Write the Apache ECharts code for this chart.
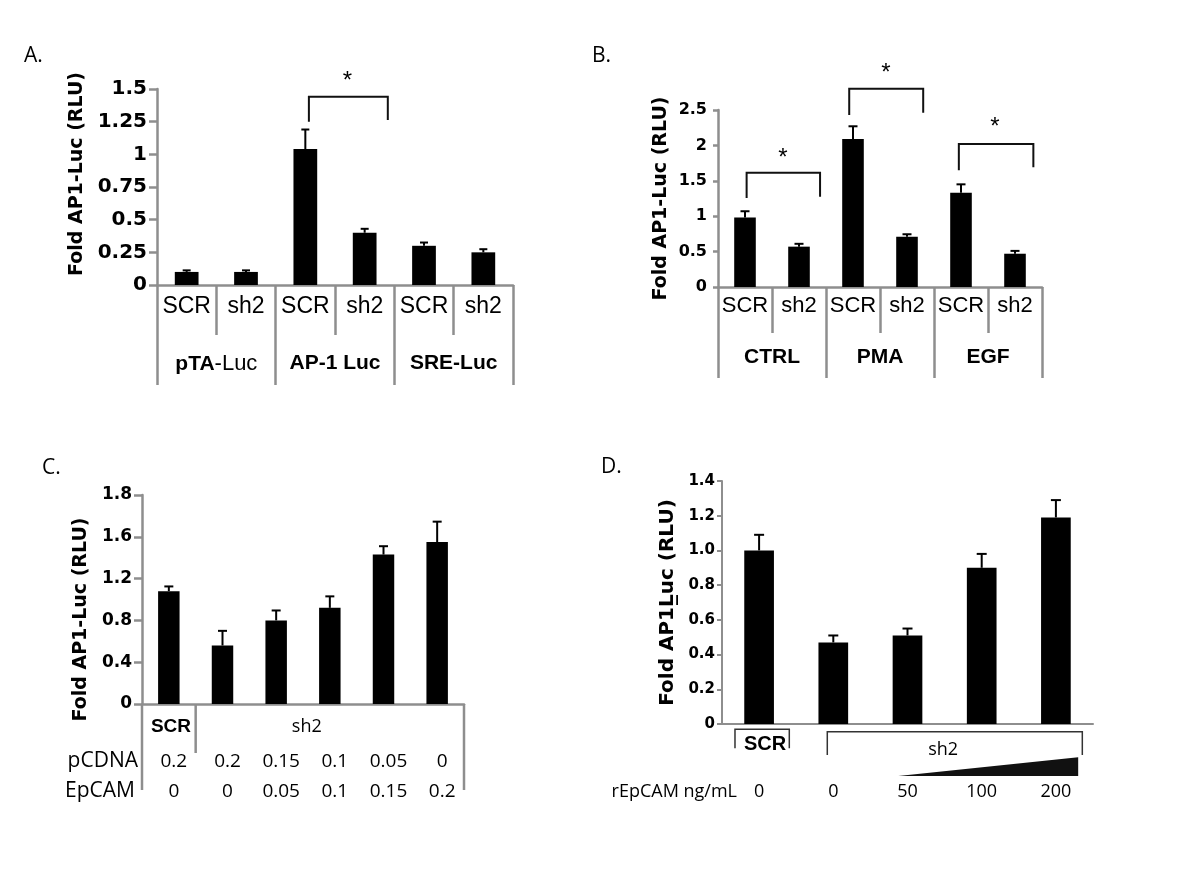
<!DOCTYPE html>
<html><head><meta charset="utf-8">
<script src="https://cdn.jsdelivr.net/npm/echarts@6/dist/echarts.min.js"></script>
<style>html,body{margin:0;padding:0;background:#fff}#c{width:1200px;height:879px}</style>
</head><body><div id="c"></div>
<script>
// ---------- Data ----------
// Panel A
const catsA = ['SCR', 'sh2', 'SCR', 'sh2', 'SCR', 'sh2'];
const groupsA = ['pTA-Luc', 'AP-1 Luc', 'SRE-Luc'];
const valuesA = [0.10, 0.10, 1.04, 0.40, 0.30, 0.25];
const errorsA = [0.012, 0.012, 0.15, 0.03, 0.025, 0.024];
// Panel B
const catsB = ['SCR', 'sh2', 'SCR', 'sh2', 'SCR', 'sh2'];
const groupsB = ['CTRL', 'PMA', 'EGF'];
const valuesB = [0.98, 0.57, 2.09, 0.71, 1.33, 0.47];
const errorsB = [0.09, 0.04, 0.18, 0.035, 0.12, 0.04];
// Panel C
const catsC = ['SCR', 'sh2', 'sh2', 'sh2', 'sh2', 'sh2'];
const pcdnaC = ['0.2', '0.2', '0.15', '0.1', '0.05', '0'];
const epcamC = ['0', '0', '0.05', '0.1', '0.15', '0.2'];
const valuesC = [1.08, 0.56, 0.80, 0.92, 1.43, 1.55];
const errorsC = [0.045, 0.14, 0.095, 0.11, 0.08, 0.195];
const yLabelsC = ['0', '0.4', '0.8', '1.2', '1.6', '1.8'];
// Panel D
const catsD = ['SCR', 'sh2', 'sh2', 'sh2', 'sh2'];
const dosesD = ['0', '0', '50', '100', '200'];
const valuesD = [1.00, 0.47, 0.51, 0.90, 1.19];
const errorsD = [0.09, 0.04, 0.04, 0.08, 0.10];
const yLabelsD = ['0', '0.2', '0.4', '0.6', '0.8', '1.0', '1.2', '1.4'];

// ---------- Styling ----------
const GRAY = '#8e8e8e';
const SANS = "'Liberation Sans', Arial, sans-serif";
const BOLDF = "'DejaVu Sans', 'Liberation Sans', sans-serif";
const MYR = "'Open Sans', 'Noto Sans', sans-serif";

function Q(P, x, dy) { const p = P(x, 0); return [p[0], p[1] + dy]; }
function bracket(P, x1, x2, yT, yL, yR) {
  const a = P(x1, yL), b = P(x1, yT), d = P(x2, yR);
  return { type: 'polyline', shape: { points: [a, [a[0], b[1]], [d[0], b[1]], d] },
    style: { stroke: '#111', lineWidth: 2, fill: 'none' } };
}
function bracketPx(P, x1, x2, dyT, dyB, color, w) {
  const a = Q(P, x1, dyB), b = Q(P, x1, dyT), d = Q(P, x2, dyB);
  return { type: 'polyline', shape: { points: [a, b, [d[0], b[1]], d] },
    style: { stroke: color || '#333', lineWidth: w || 1.5, fill: 'none' } };
}
function star(P, x, y) {
  const p = P(x, y);
  return { type: 'text', x: p[0], y: p[1] + 5,
    style: { text: '*', font: '24px ' + SANS, fill: '#000', align: 'center', verticalAlign: 'middle' } };
}
function txt(pt, text, font) {
  return { type: 'text', x: pt[0], y: pt[1],
    style: { text: text, font: font, fill: '#000', align: 'center', verticalAlign: 'middle' } };
}
function vline(P, x, dy, w) {
  const a = Q(P, x, 0), b = Q(P, x, dy);
  return { type: 'line', shape: { x1: a[0], y1: a[1], x2: b[0], y2: b[1] }, style: { stroke: GRAY, lineWidth: w } };
}

function annoSeries(xIdx, yIdx, build) {
  return { type: 'custom', xAxisIndex: xIdx, yAxisIndex: yIdx, data: [[0, 0]], clip: false, silent: true, z: 5,
    renderItem: function (params, api) {
      const P = (x, y) => api.coord([x, y]);
      return { type: 'group', children: build(P) };
    } };
}
function errSeries(xIdx, yIdx, vals, errs, capW) {
  return { type: 'custom', xAxisIndex: xIdx, yAxisIndex: yIdx, clip: false, silent: true, z: 3,
    data: vals.map((v, i) => [i, v, errs[i]]), encode: { x: 0, y: 1 },
    renderItem: function (params, api) {
      const x = api.value(0), v = api.value(1), e = api.value(2);
      const p0 = api.coord([x, v]), p1 = api.coord([x, v + e]);
      return { type: 'group', children: [
        { type: 'line', shape: { x1: p0[0], y1: p0[1], x2: p1[0], y2: p1[1] }, style: { stroke: '#000', lineWidth: 2 } },
        { type: 'line', shape: { x1: p1[0] - capW / 2, y1: p1[1], x2: p1[0] + capW / 2, y2: p1[1] }, style: { stroke: '#000', lineWidth: 2 } }
      ] };
    } };
}
function barSeries(xIdx, yIdx, vals) {
  return { type: 'bar', xAxisIndex: xIdx, yAxisIndex: yIdx, data: vals, barWidth: '40%', itemStyle: { color: '#000' }, silent: true, z: 2 };
}
function yAx(gi, max, interval, fmt, fs, tickLen, lw, name, nameGap, namePad, nameSize, margin) {
  return { type: 'value', gridIndex: gi, min: 0, max: max, interval: interval,
    axisLine: { show: true, onZero: false, lineStyle: { color: GRAY, width: lw } },
    axisTick: { show: true, length: tickLen, lineStyle: { color: GRAY, width: lw } },
    splitLine: { show: false },
    axisLabel: { formatter: fmt, fontSize: fs, fontWeight: 'bold', fontFamily: BOLDF, color: '#000', margin: margin },
    name: name, nameLocation: 'middle', nameRotate: 90, nameGap: nameGap,
    nameTextStyle: { fontSize: nameSize, fontWeight: 'bold', fontFamily: BOLDF, color: '#000', padding: namePad } };
}
function lvl1(gi, data, tickLen, fs, margin, lw) {
  return { type: 'category', gridIndex: gi, position: 'bottom', data: data,
    axisLine: { show: true, onZero: false, lineStyle: { color: GRAY, width: lw } },
    axisTick: { show: true, interval: 0, length: tickLen, lineStyle: { color: GRAY, width: lw } },
    axisLabel: { interval: 0, margin: margin, fontSize: fs, fontFamily: SANS, color: '#000' } };
}
function lvl2(gi, data, tickLen, margin, lw) {
  return { type: 'category', gridIndex: gi, position: 'bottom', data: data,
    axisLine: { show: false, onZero: false },
    axisTick: { show: true, interval: 0, length: tickLen, lineStyle: { color: GRAY, width: lw } },
    axisLabel: { interval: 0, margin: margin, color: '#000',
      formatter: v => v.indexOf('pTA') === 0 ? '{b|pTA}{r|' + v.slice(3) + '}' : '{b|' + v + '}',
      rich: { b: { fontSize: 21, fontWeight: 'bold', fontFamily: SANS, color: '#000' },
              r: { fontSize: 22, fontWeight: 'normal', fontFamily: SANS, color: '#000' } } } };
}
function rowAx(gi, data, offset, name, nameGap, fs, nameFs, pad) {
  return { type: 'category', gridIndex: gi, position: 'bottom', data: data, offset: offset,
    axisLine: { show: false, onZero: false }, axisTick: { show: false },
    axisLabel: { interval: 0, margin: 0, verticalAlign: 'middle', fontSize: fs, fontFamily: MYR, color: '#000', padding: pad },
    name: name, nameLocation: 'start', nameGap: nameGap,
    nameTextStyle: { fontSize: nameFs, fontFamily: MYR, color: '#000' } };
}
function hiddenX(gi, n) {
  return { type: 'value', gridIndex: gi, min: -0.5, max: n - 0.5, show: false, position: 'top',
    axisLine: { show: false, onZero: false }, axisTick: { show: false }, axisLabel: { show: false }, splitLine: { show: false } };
}

const option = {
  animation: false,
  backgroundColor: '#fff',
  graphic: [
    { type: 'text', x: 24, y: 56, style: { text: 'A.', font: '21px ' + MYR, fill: '#000', verticalAlign: 'middle' } },
    { type: 'text', x: 592, y: 56, style: { text: 'B.', font: '21px ' + MYR, fill: '#000', verticalAlign: 'middle' } },
    { type: 'text', x: 42, y: 468, style: { text: 'C.', font: '21px ' + MYR, fill: '#000', verticalAlign: 'middle' } },
    { type: 'text', x: 601, y: 467, style: { text: 'D.', font: '21px ' + MYR, fill: '#000', verticalAlign: 'middle' } }
  ],
  grid: [
    { left: 157, top: 89, width: 356, height: 196 },
    { left: 718, top: 110, width: 324, height: 177 },
    { left: 142, top: 495, width: 322, height: 209 },
    { left: 722, top: 481, width: 371, height: 243 }
  ],
  xAxis: [
    lvl1(0, catsA, 50, 23, 10, 2.5),           // 0
    lvl2(0, groupsA, 100, 68, 2.5),            // 1
    hiddenX(0, catsA.length),                  // 2
    lvl1(1, catsB, 46, 22, 8, 2.5),            // 3
    lvl2(1, groupsB, 91, 60, 2.5),             // 4
    hiddenX(1, catsB.length),                  // 5
    { type: 'category', gridIndex: 2, position: 'bottom', data: catsC,          // 6
      axisLine: { onZero: false, lineStyle: { color: GRAY, width: 2.5 } },
      axisTick: { interval: 0, length: 5, lineStyle: { color: GRAY, width: 2 } },
      axisLabel: { show: false } },
    rowAx(2, pcdnaC, 57.4, 'pCDNA', 4, 19, 21, [0, 0, 0, 10]),            // 7
    rowAx(2, epcamC, 87.4, 'EpCAM', 7, 19, 21, [0, 0, 0, 10]),            // 8
    hiddenX(2, catsC.length),                                              // 9
    { type: 'category', gridIndex: 3, position: 'bottom', data: catsD,          // 10
      axisLine: { onZero: false, lineStyle: { color: GRAY, width: 2 } },
      axisTick: { interval: 0, length: 5, lineStyle: { color: GRAY, width: 2 } },
      axisLabel: { show: false } },
    rowAx(3, dosesD, 67.7, 'rEpCAM ng/mL', -15, 18, 18, [0, 0, 0, 0]),       // 11
    hiddenX(3, catsD.length)                                               // 12
  ],
  yAxis: [
    yAx(0, 1.5, 0.25, null, 20, 8, 2.5, 'Fold AP1-Luc (RLU)', 70, [0, 0, 0, 26], 19, 10),
    yAx(1, 2.5, 0.5, null, 16, 5, 2.5, 'Fold AP1-Luc (RLU)', 47, [0, 0, 0, 0], 19, 11),
    yAx(2, 2.0, 0.4, v => yLabelsC[Math.round(v / 0.4)], 17, 8, 2.5, 'Fold AP1-Luc (RLU)', 51, [0, 40, 0, 0], 19, 10),
    yAx(3, 1.4, 0.2, v => yLabelsD[Math.round(v / 0.2)], 15, 5, 2, 'Fold AP1L\u0332uc (RLU)', 44, [0, 0, 0, 0], 20, 7)
  ],
  series: [
    barSeries(0, 0, valuesA), errSeries(0, 0, valuesA, errorsA, 8),
    annoSeries(2, 0, P => [bracket(P, 2.06, 3.39, 1.441, 1.250, 1.263), star(P, 2.71, 1.594)]),

    barSeries(3, 1, valuesB), errSeries(3, 1, valuesB, errorsB, 9),
    annoSeries(5, 1, P => [
      bracket(P, 0.03, 1.39, 1.614, 1.257, 1.275), star(P, 0.70, 1.893),
      bracket(P, 1.93, 3.30, 2.80, 2.43, 2.46), star(P, 2.61, 3.09),
      bracket(P, 3.96, 5.34, 2.02, 1.65, 1.69), star(P, 4.63, 2.32)
    ]),

    barSeries(6, 2, valuesC), errSeries(6, 2, valuesC, errorsC, 9),
    annoSeries(9, 2, P => [
      vline(P, -0.5, 86, 2.5), vline(P, 0.5, 49, 2.5), vline(P, 5.5, 86, 2.5),
      txt(Q(P, 0.04, 22.4), 'SCR', 'bold 19px ' + SANS),
      txt(Q(P, 2.57, 22.4), 'sh2', '18px ' + MYR)
    ]),

    barSeries(10, 3, valuesD), errSeries(10, 3, valuesD, errorsD, 10),
    annoSeries(12, 3, P => [
      bracketPx(P, -0.325, 0.407, 5.3, 24.3),
      txt(Q(P, 0.08, 20), 'SCR', 'bold 20px ' + SANS),
      bracketPx(P, 0.919, 4.356, 7.7, 31),
      txt(Q(P, 2.48, 26), 'sh2', '18px ' + MYR),
      { type: 'polygon', shape: { points: [Q(P, 1.876, 52), Q(P, 4.30, 52), Q(P, 4.30, 33.3)] }, style: { fill: '#111' } }
    ])
  ]
};

const chart = echarts.init(document.getElementById('c'), null, { renderer: 'canvas' });
chart.setOption(option);
</script>
</body></html>
